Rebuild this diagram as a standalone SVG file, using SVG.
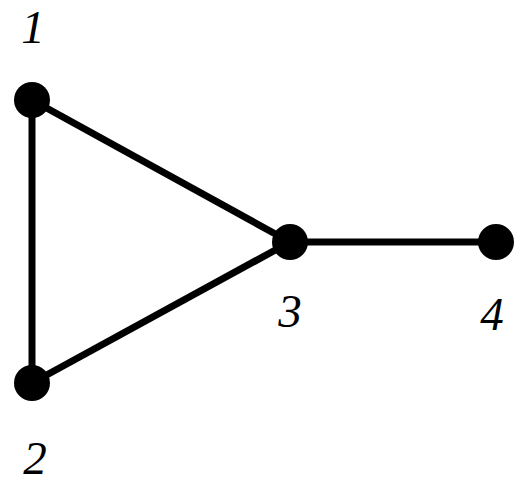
<svg xmlns="http://www.w3.org/2000/svg" width="525" height="485" viewBox="0 0 525 485">
<style>
.edge{stroke:#000;stroke-width:7;fill:none}
.node{fill:#000}
.lbl{font-family:"Liberation Serif",serif;font-style:italic;font-size:47px;text-anchor:middle;fill:#000}
</style>
<rect width="525" height="485" fill="#fff"/>
<g id="connectors">
<line class="edge" x1="32" y1="100" x2="32" y2="383"/>
<line class="edge" x1="32" y1="100" x2="290" y2="242"/>
<line class="edge" x1="32" y1="383" x2="290" y2="242"/>
<line class="edge" x1="290" y1="242" x2="496" y2="242"/>
</g>
<g id="n1"><circle class="node" cx="32" cy="100" r="18"/><text class="lbl" x="33" y="43">1</text></g>
<g id="n2"><circle class="node" cx="32" cy="383" r="18"/><text class="lbl" x="35" y="474">2</text></g>
<g id="n3"><circle class="node" cx="290" cy="242" r="18"/><text class="lbl" x="290" y="327">3</text></g>
<g id="n4"><circle class="node" cx="496" cy="242" r="18"/><text class="lbl" x="492" y="330">4</text></g>
</svg>
